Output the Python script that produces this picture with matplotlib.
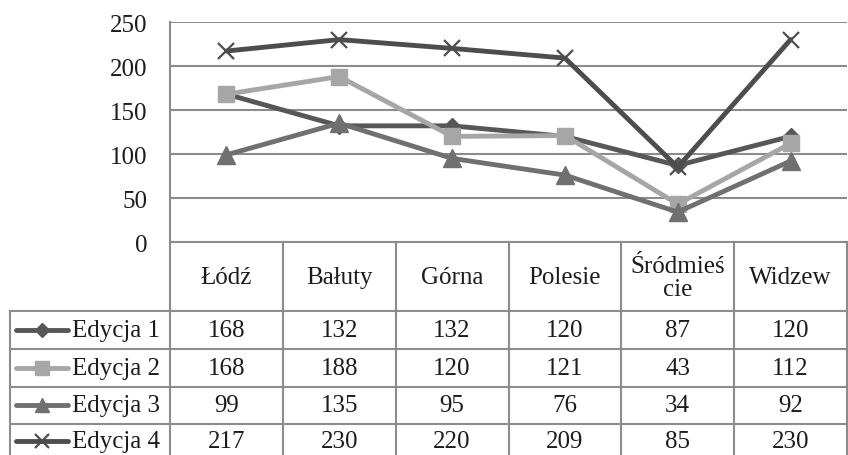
import matplotlib
matplotlib.use("Agg")
import matplotlib.pyplot as plt

plt.rcParams["font.family"] = ["Liberation Serif", "DejaVu Serif"]

districts = ["Łódź", "Bałuty", "Górna", "Polesie", "Śródmieś\ncie", "Widzew"]
series_names = ["Edycja 1", "Edycja 2", "Edycja 3", "Edycja 4"]
edycja_1 = [168, 132, 132, 120, 87, 120]
edycja_2 = [168, 188, 120, 121, 43, 112]
edycja_3 = [99, 135, 95, 76, 34, 92]
edycja_4 = [217, 230, 220, 209, 85, 230]
y_ticks = [0, 50, 100, 150, 200, 250]

series = [edycja_1, edycja_2, edycja_3, edycja_4]
styles = [
    dict(color="#575757", marker="D", markersize=8.5),
    dict(color="#a6a6a6", marker="s", markersize=11.5),
    dict(color="#707070", marker="^", markersize=12.5),
    dict(color="#4d4d4d", marker="x", markersize=12, markeredgewidth=1.6),
]

W, H = 848, 456
GRID = "#8c8c8c"
TXT = "#1c1c1c"
FS = 18

fig = plt.figure(figsize=(W / 100, H / 100), dpi=100)

# plot area, in pixel coordinates
left, right, top, bottom = 170, 847, 23, 243
ax = fig.add_axes([left / W, 1 - bottom / H, (right - left) / W, (bottom - top) / H])
n = len(districts)
xs = [i + 0.5 for i in range(n)]
for vals, st in zip(series, styles):
    ax.plot(xs, vals, linewidth=3.5, solid_capstyle="round",
            markeredgecolor=st["color"], **st)
ax.set_xlim(0, n)
ax.set_ylim(0, 250)
ax.set_yticks(y_ticks)
ax.set_xticks([])
ax.tick_params(axis="y", length=0, pad=16.5, labelsize=FS, colors=TXT)
ax.grid(axis="y", color=GRID, linewidth=1.5)
ax.set_axisbelow(True)
for side in ["top", "right", "bottom"]:
    ax.spines[side].set_visible(False)
ax.spines["left"].set_color(GRID)
ax.spines["left"].set_linewidth(1.5)

# overlay for the data table
ov = fig.add_axes([0, 0, 1, 1])
ov.set_xlim(0, W)
ov.set_ylim(H, 0)
ov.axis("off")

col_w = (right - left) / n
col_x = [left + i * col_w for i in range(n + 1)]
header_bottom = 312
row_h = 37.8
row_y = [header_bottom + i * row_h for i in range(len(series) + 1)]
leg_left = 10

lk = dict(color=GRID, linewidth=1.5)
ov.plot([left, right], [bottom, bottom], **lk)
for x in col_x:
    ov.plot([x, x], [bottom, H + 2], **lk)
ov.plot([leg_left, leg_left], [header_bottom, H + 2], **lk)
for y in row_y:
    ov.plot([leg_left, right], [y, y], **lk)

for i, name in enumerate(districts):
    ov.text(col_x[i] + col_w / 2, (bottom + header_bottom) / 2 + 1, name,
            ha="center", va="center", fontsize=FS, linespacing=1.1,
            color=TXT)

for r, (vals, st, name) in enumerate(zip(series, styles, series_names)):
    yc = row_y[r] + row_h / 2 + (0 if r < 3 else -2)
    ov.plot([16, 68], [yc, yc], color=st["color"], linewidth=3.5,
            solid_capstyle="round")
    leg_st = dict(st, markersize=st["markersize"] * 0.85)
    ov.plot([42], [yc], linestyle="none", markeredgecolor=st["color"], **leg_st)
    ov.text(72, yc, name, ha="left", va="center", fontsize=FS, color=TXT)
    for i, v in enumerate(vals):
        ov.text(col_x[i] + col_w / 2, yc, str(v), ha="center", va="center",
                fontsize=FS, color=TXT)

fig.savefig("out.png", dpi=100)
